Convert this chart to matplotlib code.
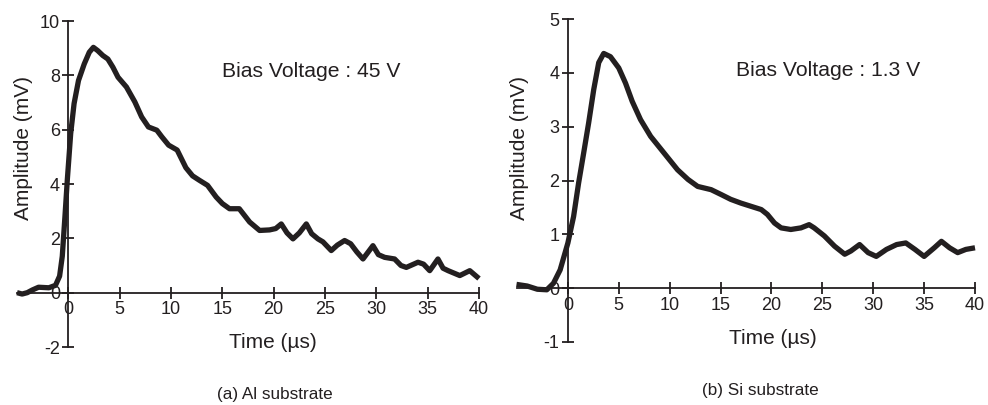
import matplotlib
matplotlib.use("Agg")
import matplotlib.pyplot as plt

plt.rcParams['font.family'] = ['Liberation Sans', 'DejaVu Sans']
plt.rcParams['axes.unicode_minus'] = False

INK = '#231f20'

# (a) Al substrate
t_al = [-5.0, -4.5, -4.0, -3.5, -2.9, -1.9, -1.25, -0.85, -0.59, -0.33, -0.1, 0.23, 0.56,
        0.99, 1.55, 2.04, 2.44, 2.86, 3.36, 3.85, 4.34, 4.84, 5.66, 6.48, 7.14, 7.8, 8.62,
        9.1, 9.77, 10.6, 11.45, 12.1, 12.75, 13.56, 14.4, 15.0, 15.7, 16.65, 17.66, 18.63,
        19.6, 20.2, 20.74, 21.3, 21.88, 22.5, 23.18, 23.7, 24.31, 24.8, 25.61, 26.2, 26.91,
        27.5, 28.1, 28.7, 29.67, 30.2, 30.81, 31.78, 32.4, 32.92, 34.06, 34.6, 35.2, 36.0,
        36.5, 36.99, 38.13, 39.1, 40.0]
a_al = [0.0, -0.05, 0.0, 0.1, 0.2, 0.18, 0.27, 0.61, 1.34, 2.8, 4.15, 5.86, 6.96,
        7.81, 8.42, 8.85, 9.03, 8.91, 8.73, 8.6, 8.3, 7.93, 7.57, 7.02, 6.47, 6.1, 5.98,
        5.74, 5.43, 5.25, 4.6, 4.3, 4.14, 3.95, 3.52, 3.28, 3.09, 3.09, 2.6, 2.29,
        2.31, 2.36, 2.53, 2.2, 1.98, 2.2, 2.53, 2.17, 1.98, 1.87, 1.55, 1.75, 1.92,
        1.8, 1.5, 1.24, 1.73, 1.4, 1.3, 1.24, 1.0, 0.93, 1.12, 1.05, 0.81, 1.24,
        0.9, 0.81, 0.63, 0.81, 0.52]

# (b) Si substrate
t_si = [-5.05, -4.0, -3.0, -2.07, -1.42, -0.76, 0.0, 0.56, 1.05, 1.55, 2.04, 2.54, 3.03,
        3.52, 4.18, 5.0, 5.66, 6.32, 7.14, 8.13, 9.45, 10.77, 11.8, 12.75, 14.07, 15.05,
        16.0, 17.0, 18.0, 19.0, 19.6, 20.3, 20.95, 21.9, 22.9, 23.7, 24.2, 25.2, 26.2,
        27.2, 27.8, 28.66, 29.5, 30.3, 31.3, 32.3, 33.2, 34.1, 35.0, 36.0, 36.7, 37.5,
        38.3, 39.1, 40.0]
a_si = [0.07, 0.04, -0.02, -0.03, 0.09, 0.34, 0.84, 1.33, 1.95, 2.51, 3.07, 3.69, 4.19,
        4.36, 4.3, 4.09, 3.81, 3.47, 3.13, 2.82, 2.51, 2.2, 2.02, 1.89, 1.83, 1.74,
        1.65, 1.58, 1.52, 1.46, 1.37, 1.21, 1.12, 1.09, 1.12, 1.18, 1.12, 0.97, 0.78,
        0.63, 0.69, 0.81, 0.66, 0.59, 0.72, 0.81, 0.84, 0.72, 0.59, 0.75, 0.87, 0.75,
        0.66, 0.72, 0.75]

x_ticks = [0, 5, 10, 15, 20, 25, 30, 35, 40]
y_ticks_al = [-2, 0, 2, 4, 6, 8, 10]
y_ticks_si = [-1, 0, 1, 2, 3, 4, 5]

W, H = 988, 405
fig = plt.figure(figsize=(W / 100, H / 100), dpi=100)


def px_axes(x0, x1, ytop, ybot):
    return fig.add_axes([x0 / W, 1 - ybot / H, (x1 - x0) / W, (ybot - ytop) / H])


def style(ax, ylim, yticks):
    ax.set_xlim(-5, 40)
    ax.set_ylim(*ylim)
    for s in ('top', 'right'):
        ax.spines[s].set_visible(False)
    ax.spines['left'].set_position(('data', 0))
    ax.spines['bottom'].set_position(('data', 0))
    for s in ('left', 'bottom'):
        ax.spines[s].set_color(INK)
        ax.spines[s].set_linewidth(1.3)
    ax.set_xticks(x_ticks)
    ax.set_yticks(yticks)
    ax.tick_params(direction='inout', length=8, width=1.3, color=INK,
                   labelcolor=INK, labelsize=13, pad=2)
    ax.patch.set_visible(False)


# Left panel
ax1 = px_axes(17, 479, 21, 347)
style(ax1, (-2, 10), y_ticks_al)
ax1.plot(t_al, a_al, color=INK, lw=3.8, solid_joinstyle='round',
         solid_capstyle='butt', zorder=5, clip_on=False)
ax1.set_ylabel('Amplitude (mV)', fontsize=15, color=INK)
ax1.yaxis.set_label_coords(0.013, 0.61)
ax1.yaxis.label.set_va('center')
ax1.set_xlabel('Time (\u00b5s)', fontsize=15, color=INK)
ax1.xaxis.set_label_coords(0.554, 0.015)
ax1.xaxis.label.set_va('center')
ax1.text(15.0, 8.15, 'Bias Voltage : 45 V', fontsize=15.2, color=INK,
         ha='left', va='center')

# Right panel
ax2 = px_axes(517, 975, 19, 342)
style(ax2, (-1, 5), y_ticks_si)
ax2.plot(t_si, a_si, color=INK, lw=3.8, solid_joinstyle='round',
         solid_capstyle='butt', zorder=5, clip_on=False)
ax2.set_ylabel('Amplitude (mV)', fontsize=15, color=INK)
ax2.yaxis.set_label_coords(0.005, 0.60)
ax2.yaxis.label.set_va('center')
ax2.set_xlabel('Time (\u00b5s)', fontsize=15, color=INK)
ax2.xaxis.set_label_coords(0.559, 0.012)
ax2.xaxis.label.set_va('center')
ax2.text(16.5, 4.04, 'Bias Voltage : 1.3 V', fontsize=15.2, color=INK,
         ha='left', va='center')

fig.text(275 / W, 1 - 395 / H, '(a) Al substrate', fontsize=12.3, color=INK,
         ha='center', va='center')
fig.text(760 / W, 1 - 390 / H, '(b) Si substrate', fontsize=12.3, color=INK,
         ha='center', va='center')

fig.savefig('out.png', dpi=100)
